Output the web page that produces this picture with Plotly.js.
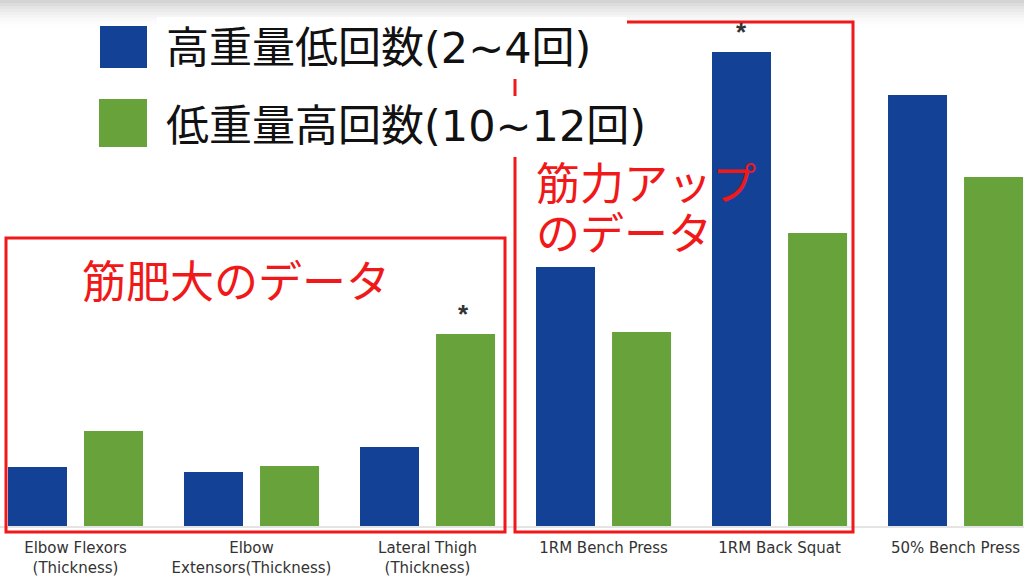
<!DOCTYPE html>
<html>
<head>
<meta charset="utf-8">
<script src="https://cdn.plot.ly/plotly-3.0.1.min.js"></script>
<style>
html,body{margin:0;padding:0;background:#fff;}
#chart{width:1024px;height:578px;}
</style>
</head>
<body>
<div id="chart"></div>
<script>
// ---- data ----
const categories = [
  "Elbow Flexors<br>(Thickness)",
  "Elbow<br>Extensors(Thickness)",
  "Lateral Thigh<br>(Thickness)",
  "1RM Bench Press",
  "1RM Back Squat",
  "50% Bench Press"
];
const seriesNames = ["高重量低回数(2~4回)", "低重量高回数(10~12回)"];
const heavyLoad = [5.9, 5.4, 7.9, 25.9, 47.4, 43.1];
const lightLoad = [9.5, 6.0, 19.2, 19.4, 29.3, 34.9];
const hypertrophyLabel = "筋肥大のデータ";
const strengthLabel = ["筋力アップ", "のデータ"];
const significance = [
  {series: 1, index: 2},
  {series: 0, index: 4}
];

// ---- styling ----
const BLUE = "#124195";
const GREEN = "#67a23a";
const RED = "#f01818";
const W = 1024, BASE = 526;
const px = x => x / W;
const py = y => (BASE - y) / BASE;
const JP = "Noto Sans CJK JP, Noto Sans CJK SC, sans-serif";

// wrap ASCII runs in a wider Latin font so digits match the reference width
function styleLegend(s) {
  return s.replace(/([\x20-\x7e~]+)/g,
    '<span style="font-family:DejaVu Sans, sans-serif">$1</span>');
}

const traces = [
  {type: "bar", name: seriesNames[0], x: categories, y: heavyLoad,
   marker: {color: BLUE, line: {width: 0}}, hoverinfo: "skip"},
  {type: "bar", name: seriesNames[1], x: categories, y: lightLoad,
   marker: {color: GREEN, line: {width: 0}}, hoverinfo: "skip"}
];

const shapes = [];
// top gray gradient
const grad = [0.85, 0.7, 0.55, 0.42, 0.3, 0.2, 0.12, 0.06, 0.02];
grad.forEach((o, i) => {
  shapes.push({type: "rect", xref: "paper", yref: "paper", layer: "below",
    x0: 0, x1: 1, y0: py(i * 3), y1: py(i * 3 + 3),
    line: {width: 0}, fillcolor: "rgba(205,205,205," + o + ")"});
});
// faint baseline
shapes.push({type: "line", xref: "paper", yref: "paper", layer: "below",
  x0: 0, x1: 1, y0: py(527), y1: py(527), line: {color: "#e4e4e4", width: 2}});
// red boxes
shapes.push({type: "rect", xref: "paper", yref: "paper", layer: "above",
  x0: px(6), x1: px(505), y0: py(238), y1: py(532), line: {color: RED, width: 3}});
shapes.push({type: "rect", xref: "paper", yref: "paper", layer: "above",
  x0: px(515), x1: px(853), y0: py(22), y1: py(532), line: {color: RED, width: 3}});
// white legend backgrounds
shapes.push({type: "rect", xref: "paper", yref: "paper", layer: "above",
  x0: px(157), x1: px(627), y0: py(17), y1: py(79), line: {width: 0}, fillcolor: "#ffffff"});
shapes.push({type: "rect", xref: "paper", yref: "paper", layer: "above",
  x0: px(157), x1: px(662), y0: py(96), y1: py(157), line: {width: 0}, fillcolor: "#ffffff"});
// legend swatches
shapes.push({type: "rect", xref: "paper", yref: "paper", layer: "above",
  x0: px(100), x1: px(147), y0: py(26), y1: py(68), line: {width: 0}, fillcolor: BLUE});
shapes.push({type: "rect", xref: "paper", yref: "paper", layer: "above",
  x0: px(99), x1: px(147), y0: py(99), y1: py(147), line: {width: 0}, fillcolor: GREEN});

const annotations = [
  {xref: "paper", yref: "paper", x: px(164), y: py(44), xanchor: "left", yanchor: "middle",
   text: styleLegend(seriesNames[0]), showarrow: false, font: {family: JP, size: 43, color: "#111"}},
  {xref: "paper", yref: "paper", x: px(164), y: py(122), xanchor: "left", yanchor: "middle",
   text: styleLegend(seriesNames[1]), showarrow: false, font: {family: JP, size: 43, color: "#111"}},
  {xref: "paper", yref: "paper", x: px(80), y: py(279), xanchor: "left", yanchor: "middle",
   text: hypertrophyLabel, showarrow: false, font: {family: JP, size: 44, color: RED}},
  {xref: "paper", yref: "paper", x: px(535), y: py(181), xanchor: "left", yanchor: "middle",
   height: 46, borderpad: 0,
   text: strengthLabel[0], showarrow: false, font: {family: JP, size: 44, color: RED}},
  {xref: "paper", yref: "paper", x: px(535), y: py(231), xanchor: "left", yanchor: "middle",
   height: 46, borderpad: 0,
   text: strengthLabel[1], showarrow: false, font: {family: JP, size: 44, color: RED}}
];
significance.forEach(s => {
  const vals = s.series === 0 ? heavyLoad : lightLoad;
  annotations.push({xref: "x", yref: "y", x: categories[s.index], y: vals[s.index],
    xshift: s.series === 0 ? -38 : 36, yshift: 20, yanchor: "middle", xanchor: "center",
    text: "<b>*</b>", showarrow: false, font: {family: "Liberation Sans, Arial, sans-serif", size: 26, color: "#333"}});
});

const layout = {
  width: 1024, height: 578,
  margin: {l: 0, r: 0, t: 0, b: 52, pad: 0},
  paper_bgcolor: "#ffffff", plot_bgcolor: "rgba(0,0,0,0)",
  showlegend: false,
  barmode: "group", bargap: 0.136, bargroupgap: 0.224,
  xaxis: {type: "category", range: [-0.429, 5.389], showgrid: false, zeroline: false,
    showline: false, ticks: "outside", ticklen: 8, tickcolor: "rgba(0,0,0,0)", fixedrange: true,
    tickfont: {family: "DejaVu Sans, sans-serif", size: 15, color: "#333"}},
  yaxis: {range: [0, 52.6], visible: false, fixedrange: true},
  shapes: shapes,
  annotations: annotations
};

Plotly.newPlot("chart", traces, layout, {displayModeBar: false, staticPlot: true});
</script>
</body>
</html>
